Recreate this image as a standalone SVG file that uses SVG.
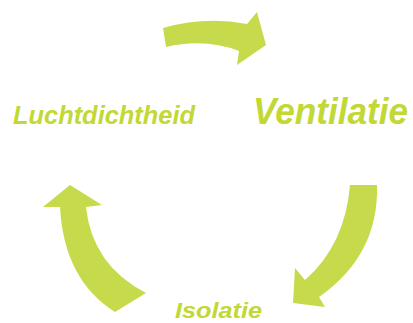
<svg xmlns="http://www.w3.org/2000/svg" width="413" height="323" viewBox="0 0 413 323">
<style>
.arrow{fill:#c6da4c;}
.lbl{fill:#c2d834;font-family:"Liberation Sans",Arial,sans-serif;font-weight:bold;font-style:italic;}
</style>
<rect width="413" height="323" fill="#ffffff"/>
<g id="connectors">
<path id="arrow-top" class="arrow" d="M163,28 Q205,16 247,24 L257,12 L266,45 L237,65 L239,51 Q205,38 166,47 Z"/>
<path id="arrow-right" class="arrow" d="M350,185 L377,185 Q379,255 319,297 L325,307 L293,303 L295,268 L305,280 Q345,245 350,185 Z"/>
<path id="arrow-left" class="arrow" d="M70,185 L102,205 L86,207 Q92,265 146,293 L115,312 Q64,280 60,207 L43,207 Z"/>
</g>
<g id="node-luchtdichtheid"><text class="lbl" x="13" y="124" font-size="26" textLength="182" lengthAdjust="spacingAndGlyphs">Luchtdichtheid</text></g>
<g id="node-ventilatie"><text class="lbl" x="253" y="124" font-size="36" textLength="155" lengthAdjust="spacingAndGlyphs">Ventilatie</text></g>
<g id="node-isolatie"><text class="lbl" x="175" y="318" font-size="22" textLength="87" lengthAdjust="spacingAndGlyphs">Isolatie</text></g>
</svg>
